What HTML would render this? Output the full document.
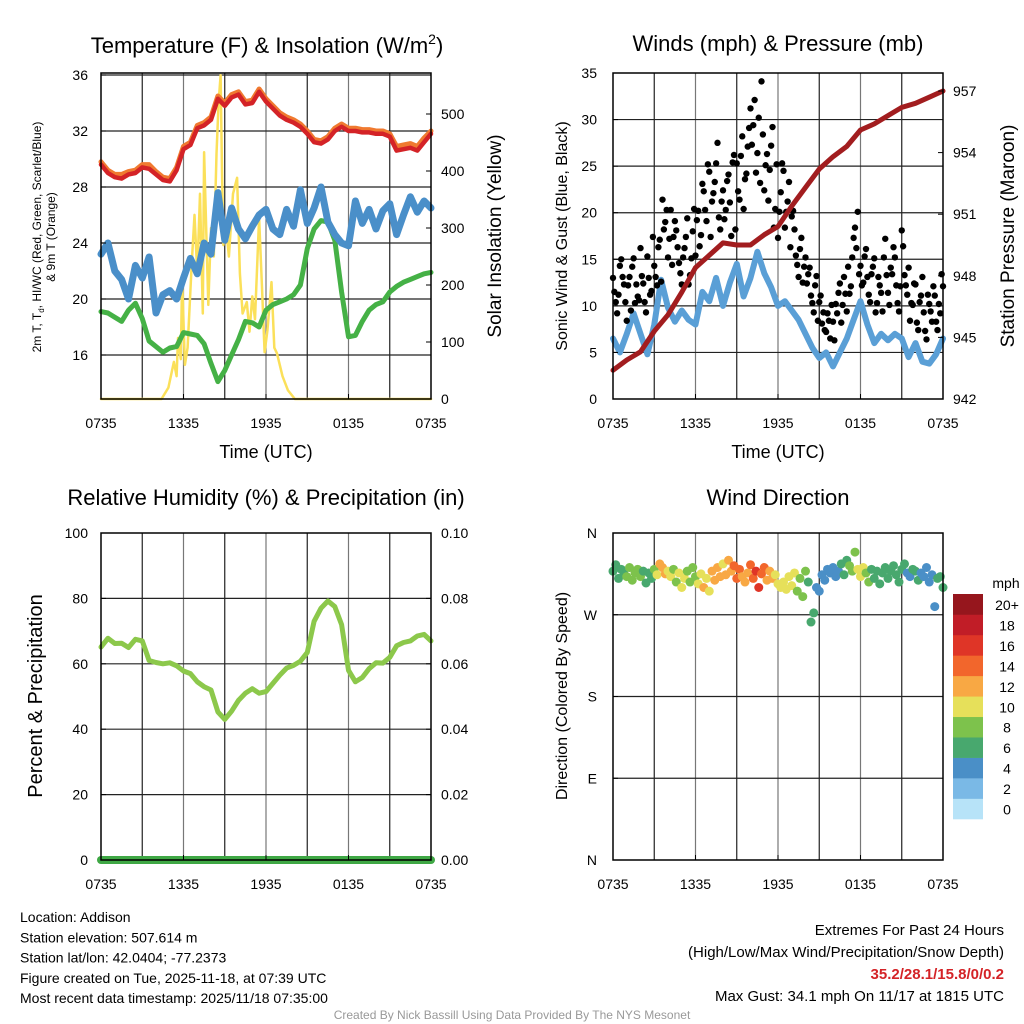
<!DOCTYPE html>
<html><head><meta charset="utf-8"><style>
body{margin:0;background:#fff}
svg{display:block;font-family:"Liberation Sans",sans-serif}
</style></head><body>
<svg id="c" width="1024" height="1024" viewBox="0 0 1024 1024" xmlns="http://www.w3.org/2000/svg"></svg>
<script>
// ---- data ----
const hoursHalf = Array.from({length:49},(_, i)=>i*0.5);
const tempRed = [29.6,29.0,28.7,28.6,28.9,29.0,29.4,29.3,28.9,28.5,28.4,29.2,30.7,31.0,32.2,32.4,32.8,34.3,33.8,34.4,34.6,33.9,34.0,34.8,34.1,33.6,33.1,32.8,32.6,32.3,31.8,31.2,31.1,31.4,32.0,32.3,32.0,32.0,31.9,31.9,31.8,31.8,31.6,30.6,30.7,30.8,30.6,31.2,31.8];
const temp9mOrange = [29.8,29.2,28.9,28.9,29.1,29.2,29.6,29.6,29.1,28.7,28.6,29.4,30.9,31.2,32.4,32.6,33.0,34.5,34.0,34.6,34.8,34.1,34.2,35.0,34.3,33.8,33.3,33.0,32.8,32.5,32.0,31.4,31.3,31.6,32.2,32.5,32.2,32.2,32.1,32.1,32.0,32.0,31.8,30.9,31.0,31.1,30.9,31.5,32.0];
const dewGreen = [19.1,19.0,18.7,18.4,19.2,19.7,18.6,17.0,16.6,16.2,16.5,16.6,17.6,17.5,17.4,16.8,15.4,14.1,14.9,16.0,17.1,18.4,18.3,18.0,19.2,19.6,19.8,20.0,20.3,21.0,23.6,25.0,25.6,25.5,24.2,20.5,17.3,17.4,18.4,19.2,19.6,19.8,20.5,20.9,21.2,21.4,21.6,21.8,21.9];
const windChillBlue = [23.2,24.0,22.0,21.4,20.0,22.4,21.5,23.0,19.0,20.3,20.6,20.0,21.5,22.9,21.8,24.0,23.2,27.6,24.2,26.5,25.0,24.3,25.2,26.0,26.4,25.0,24.6,26.4,25.2,27.8,25.4,26.5,28.0,25.5,24.6,24.0,23.8,27.0,25.4,26.4,25.0,26.3,26.8,24.6,26.0,27.3,26.2,27.0,26.5];
const solarHours = [0,4.4,4.9,5.3,5.5,5.6,5.8,5.9,6.1,6.3,6.6,6.8,7.0,7.2,7.4,7.5,7.8,8.0,8.2,8.4,8.55,8.7,8.8,8.9,9.1,9.3,9.6,9.9,10.1,10.3,10.6,10.8,11.0,11.2,11.5,11.7,11.9,12.1,12.4,12.6,12.8,13.2,13.6,14.1,24];
const solarValues = [0,0,20,65,40,107,70,212,60,90,240,323,220,360,150,433,165,300,250,430,520,568,400,270,300,250,360,388,220,150,170,118,180,140,318,200,82,120,205,90,80,40,15,0,0];
const hoursOne = Array.from({length:25},(_, i)=>i);
const pressure = [943.4,943.9,944.3,945.3,946.1,947.2,948.4,949.0,949.6,949.5,949.5,950.0,950.4,951.4,952.3,953.2,953.8,954.3,955.1,955.4,955.8,956.2,956.4,956.7,957.0];
const windSpeed = [6.5,5.0,7.0,9.2,7.0,4.8,8.0,12.8,9.8,8.3,9.5,8.5,8.0,11.5,10.5,13.0,10.0,12.5,14.5,11.0,13.0,15.8,13.5,12.0,10.0,10.5,9.5,8.5,7.0,5.5,4.4,5.0,3.5,5.0,6.5,8.5,10.5,8.0,6.0,7.0,6.3,7.0,6.5,4.5,6.0,4.0,3.8,4.8,6.5];
const gustA = [13,10.4,11.2,15,12.3,8.4,13.1,14.2,10.3,11,16.2,12.4,9.3,13,11.6,14.3,12.2,17.1,21.4,19,15.2,20.3,17.4,18.1,14.6,12.3,16.2,19.4,13.3,18,15.4,20.2,17.6,22.3,19.1,24.4,21.2,23.3,27.5,18.2,22.4,20.3,24.1,17.5,26.2,25.3,21.4,28.2,23.6,27.1,31.2,29.4,24.3,30.2,34.1,22.4,26.3,24.6,29.2,20.4,17.3,22.2,24.5,20.1,23.3,19.6,18.2,14.4,16.1,12.5,15.2,13.4,11.1,9.3,13.2,10.4,8.1,7.4,9.2,6.5,8.3,10.2,11.4,8.2,13.1,9.4,11.3,15.2,18.4,20.1,14.3,12.5,16.1,11.2,13.4,15.1,10.3,12.2,9.4,17.2,11.4,14.1,16.3,12.2,9.4,18.1,13.3,11.2,8.4,10.1,12.3,7.4,11.1,9.3,6.4,10.2,8.3,11.1,7.4,9.2,12.1];
const gustB = [11.5,9.2,14.3,13.1,10.4,12.2,9.5,15.1,12.3,10.6,13.2,10.4,15.3,11.2,17.4,13.1,16.3,12.6,18.2,20.3,17.2,14.4,19.1,16.3,13.5,15.2,17.4,12.3,15.1,20.4,19.2,16.4,23.1,20.3,25.2,17.4,22.1,25.3,19.5,21.2,19.3,23.4,21.1,25.4,18.2,22.3,26.1,20.4,24.2,29.1,27.3,32.1,26.4,23.2,28.4,25.1,21.3,27.2,18.4,25.2,20.1,25.3,18.4,21.2,16.3,20.2,15.4,13.1,17.3,14.2,12.4,14.1,10.3,12.2,8.4,11.1,9.3,7.2,8.4,10.1,6.3,9.2,12.4,10.1,11.3,14.2,12.1,17.3,16.2,13.4,12.2,15.3,13.1,10.4,14.2,9.3,13.1,11.4,15.2,13.3,10.1,13.4,15.2,10.3,12.1,16.4,12.2,14.1,10.3,12.4,8.2,10.4,13.1,7.3,11.2,9.4,12.1,8.3,10.2,13.4];
const humidity = [65.1,67.8,66.2,66.3,65.0,67.5,67.0,61.0,60.4,60.0,60.3,59.4,57.8,57.0,54.5,53.0,52.0,45.3,43.0,45.5,48.8,51.0,52.4,51.0,51.5,54.0,56.5,58.7,59.5,60.8,63.5,73.0,77.0,79.2,77.5,72.0,58.0,54.5,55.8,58.5,60.3,60.2,62.0,65.5,66.5,67.0,68.5,69.0,67.0];
const precip = [0,0];
const precipHours = [0,24];
const windDir = [318,325,310,320,315,312,322,308,316,320,312,318,305,316,310,320,314,326,322,315,318,312,320,306,316,300,310,318,306,322,312,304,315,300,310,296,318,308,322,312,326,314,330,318,324,310,320,312,306,316,325,310,318,300,315,322,308,318,310,314,304,300,306,298,312,302,316,296,310,290,318,306,262,272,300,296,314,308,320,316,322,312,318,326,314,330,324,318,339,320,312,322,316,306,320,310,318,304,316,322,310,318,324,314,306,320,326,316,312,320,318,308,316,312,322,306,314,279,310,312,300];
const timeTicks = ["0735","1335","1935","0135","0735"];
const tempTicks = [16,20,24,28,32,36];
const solarTicks = [0,100,200,300,400,500];
const windTicks = [0,5,10,15,20,25,30,35];
const presTicks = [942,945,948,951,954,957];
const rhTicks = [0,20,40,60,80,100];
const prTicks = ["0.00","0.02","0.04","0.06","0.08","0.10"];
const dirLabels = ["N","W","S","E","N"];
const cbLabels = ["0","2","4","6","8","10","12","14","16","18","20+"];
const cbColors = ["#b7e3f8","#7ab9e6","#4a8fc7","#48a86e","#7dc24c","#e6e05a","#f8a844","#f2662c","#df3527","#c11d27","#96161d"];

// ---- helpers ----
const svg=document.getElementById('c');const NS='http://www.w3.org/2000/svg';
function mk(tag,attrs,parent){const e=document.createElementNS(NS,tag);for(const k in attrs)e.setAttribute(k,attrs[k]);(parent||svg).appendChild(e);return e;}
function txt(s,x,y,size,anchor,name,extra){const t=mk('text',Object.assign({x:x,y:y,'font-size':size,'text-anchor':anchor||'middle',fill:'#000'},extra||{}));t.textContent=s;


return t;}
function panel(x0,y0,x1,y1){return {x0,y0,x1,y1,sx:h=>x0+(x1-x0)*h/24};}
const P1=panel(101,73,431,399),P2=panel(613,73,943,399),P3=panel(101,533,431,860),P4=panel(613,533,943,860);
const yTemp=v=>131+(32-v)*14, ySolar=v=>399-v*0.57;
const yWind=v=>399-v*(326/35), yPres=v=>399-(v-942)*(308/15);
const yRH=v=>860-v*3.27, yPr=v=>860-v*3270, yDir=v=>860-v*327/360;

function grid(P,ys,name){const g=mk('g',{});


for(let i=1;i<8;i++){const x=P.x0+(P.x1-P.x0)*i/8;mk('line',{x1:x,x2:x,y1:P.y0,y2:P.y1,stroke:i%2?'#222':'#777','stroke-width':1.2},g);}
ys.forEach(y=>mk('line',{x1:P.x0,x2:P.x1,y1:y,y2:y,stroke:'#222','stroke-width':1.2},g));}
function frame(P,name){const r=mk('rect',{x:P.x0,y:P.y0,width:P.x1-P.x0,height:P.y1-P.y0,fill:'none',stroke:'#000','stroke-width':1.5});


timeTicks.forEach((t,i)=>{const x=P.x0+(P.x1-P.x0)*i/4;txt(t,x,P.y1+29,14,'middle','x-tick-label');mk('line',{x1:x,x2:x,y1:P.y1,y2:P.y1-5,stroke:'#000'});});}
function line(xs,ys,sx,sy,color,w,name){const d=xs.map((h,i)=>(i?'L':'M')+sx(h).toFixed(1)+','+sy(ys[i]).toFixed(1)).join('');const p=mk('path',{d:d,fill:'none',stroke:color,'stroke-width':w,'stroke-linejoin':'round','stroke-linecap':'round'});


return p;}

// ---- panel 1 ----
grid(P1,[28,24,20,16,32].map(yTemp).concat([75]),'temp-grid');
line(solarHours,solarValues,P1.sx,ySolar,'#fbe05a',2.5,'solar-insolation-line');
line(hoursHalf,dewGreen,P1.sx,yTemp,'#45b146',5,'dewpoint-line');
line(hoursHalf,windChillBlue,P1.sx,yTemp,'#4a8fc9',7,'wind-chill-line');
line(hoursHalf,temp9mOrange,P1.sx,yTemp,'#f07a30',5,'temp-9m-line');
line(hoursHalf,tempRed,P1.sx,yTemp,'#d42327',4.5,'temp-2m-line');
frame(P1,'temp-plot-frame');
tempTicks.forEach(v=>{txt(String(v),88,yTemp(v)+5,14,'end','temp-tick-label');mk('line',{x1:P1.x0,x2:P1.x0+5,y1:yTemp(v),y2:yTemp(v),stroke:'#000'});});
solarTicks.forEach(v=>{txt(String(v),441,ySolar(v)+5,14,'start','solar-tick-label');mk('line',{x1:P1.x1,x2:P1.x1-5,y1:ySolar(v),y2:ySolar(v),stroke:'#000'});});
{const t=txt('',267,53,22,'middle','temp-panel-title');t.innerHTML='Temperature (F) &amp; Insolation (W/m<tspan font-size="14" dy="-9">2</tspan><tspan dy="9">)</tspan>';}
txt('Time (UTC)',266,458,18,'middle','temp-x-axis-title');
{const t=txt('',0,0,12,'middle','temp-y-axis-title',{transform:'translate(41,237) rotate(-90)'});t.innerHTML='2m T, T<tspan font-size="8" dy="3">d</tspan><tspan dy="-3">, HI/WC (Red, Green, Scarlet/Blue)</tspan>';
txt('& 9m T (Orange)',0,0,12,'middle','temp-y-axis-title-line2',{transform:'translate(55,237) rotate(-90)'});}
txt('Solar Insolation (Yellow)',0,0,19,'middle','solar-y-axis-title',{transform:'translate(501,236) rotate(-90)'});

// ---- panel 2 ----
grid(P2,[5,10,15,20,25,30].map(yWind),'wind-grid');
line(hoursHalf,windSpeed,P2.sx,yWind,'#5a9fd6',6,'sonic-wind-line');
[gustA,gustB].forEach((arr,k)=>arr.forEach((v,i)=>{const c=mk('circle',{cx:P2.sx(i*0.2+k*0.1),cy:yWind(v),r:3.2,fill:'#000'});

}));
line(hoursOne,pressure,P2.sx,yPres,'#a21d1f',5,'pressure-line');
frame(P2,'wind-plot-frame');
windTicks.forEach(v=>{txt(String(v),597,yWind(v)+5,14,'end','wind-tick-label');mk('line',{x1:P2.x0,x2:P2.x0+5,y1:yWind(v),y2:yWind(v),stroke:'#000'});});
presTicks.forEach(v=>{txt(String(v),953,yPres(v)+5,14,'start','pressure-tick-label');mk('line',{x1:P2.x1,x2:P2.x1-5,y1:yPres(v),y2:yPres(v),stroke:'#000'});});
txt('Winds (mph) & Pressure (mb)',778,51,22,'middle','wind-panel-title');
txt('Time (UTC)',778,458,18,'middle','wind-x-axis-title');
txt('Sonic Wind & Gust (Blue, Black)',0,0,16,'middle','wind-y-axis-title',{transform:'translate(567,236) rotate(-90)'});
txt('Station Pressure (Maroon)',0,0,19,'middle','pressure-y-axis-title',{transform:'translate(1014,236) rotate(-90)'});

// ---- panel 3 ----
grid(P3,[20,40,60,80].map(yRH),'rh-grid');
line(hoursHalf,humidity,P3.sx,yRH,'#8cc84b',5,'humidity-line');
line(precipHours,precip,P3.sx,yPr,'#3fa845',8,'precipitation-line');
frame(P3,'rh-plot-frame');
rhTicks.forEach(v=>{txt(String(v),88,yRH(v)+5,14,'end','rh-tick-label');mk('line',{x1:P3.x0,x2:P3.x0+5,y1:yRH(v),y2:yRH(v),stroke:'#000'});});
prTicks.forEach(v=>{txt(v,441,yPr(+v)+5,14,'start','precip-tick-label');mk('line',{x1:P3.x1,x2:P3.x1-5,y1:yPr(+v),y2:yPr(+v),stroke:'#000'});});
txt('Relative Humidity (%) & Precipitation (in)',266,505,22,'middle','rh-panel-title');
txt('Percent & Precipitation',0,0,20,'middle','rh-y-axis-title',{transform:'translate(42,696) rotate(-90)'});

// ---- panel 4 ----
grid(P4,[90,180,270].map(yDir),'dir-grid');
function speedAt(h){const i=Math.min(47,Math.floor(h*2));const f=h*2-i;return windSpeed[i]*(1-f)+windSpeed[i+1]*f;}
windDir.forEach((d,i)=>{const h=i*0.2;const s=speedAt(h);const ci=Math.min(10,Math.max(0,Math.round(s/2)));const c=mk('circle',{cx:P4.sx(h),cy:yDir(d),r:4.5,fill:cbColors[ci]});

});
frame(P4,'dir-plot-frame');
dirLabels.forEach((l,i)=>{const y=P4.y0+(P4.y1-P4.y0)*i/4;txt(l,597,y+5,14,'end','direction-tick-label');mk('line',{x1:P4.x0,x2:P4.x0+5,y1:y,y2:y,stroke:'#000'});});
txt('Wind Direction',778,505,22,'middle','dir-panel-title');
txt('Direction (Colored By Speed)',0,0,16,'middle','dir-y-axis-title',{transform:'translate(567,696) rotate(-90)'});
txt('mph',1006,588,14,'middle','colorbar-unit');
cbColors.forEach((c,i)=>{const y=819-(i+1)*225/11;const r=mk('rect',{x:953,y:y,width:30,height:225/11+0.3,fill:c});


txt(cbLabels[i],1007,y+16,14,'middle','colorbar-label');});

// ---- footer ----
['Location: Addison','Station elevation: 507.614 m','Station lat/lon: 42.0404; -77.2373','Figure created on Tue, 2025-11-18, at 07:39 UTC','Most recent data timestamp: 2025/11/18 07:35:00'].forEach((s,i)=>txt(s,20,922+i*20.3,14,'start','station-info-line'));
txt('Extremes For Past 24 Hours',1004,935,15,'end','extremes-title');
txt('(High/Low/Max Wind/Precipitation/Snow Depth)',1004,957,15,'end','extremes-subtitle');
txt('35.2/28.1/15.8/0/0.2',1004,979,15,'end','extremes-values',{fill:'#d42327','font-weight':'bold'});
txt('Max Gust: 34.1 mph On 11/17 at 1815 UTC',1004,1001,15,'end','max-gust-text');
txt('Created By Nick Bassill Using Data Provided By The NYS Mesonet',512,1019,12,'middle','credit-text',{fill:'#999'});
</script>
</body></html>
